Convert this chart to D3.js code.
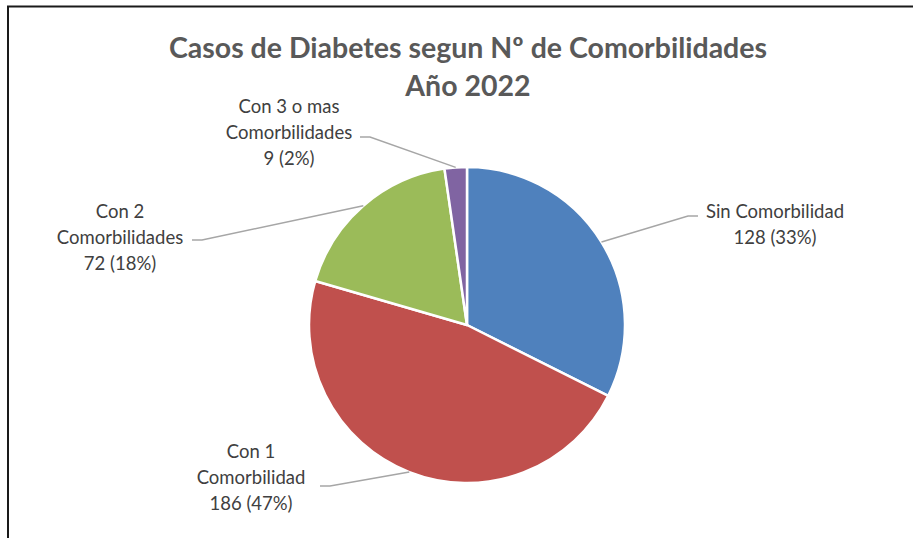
<!DOCTYPE html>
<html>
<head>
<meta charset="utf-8">
<script src="https://cdn.jsdelivr.net/npm/d3@7"></script>
<style>
  body { margin: 0; background: #fff; }
  svg { display: block; font-family: Lato, "Noto Sans", sans-serif; }
</style>
</head>
<body>
<svg width="913" height="538"></svg>
<script>
const width = 913;
const height = 538;

// data
const categories = ["Sin Comorbilidad", "Con 1 Comorbilidad", "Con 2 Comorbilidades", "Con 3 o mas Comorbilidades"];
const values = [128, 186, 72, 9];
const percents = [33, 47, 18, 2];
const labelLines = [
    ["Sin Comorbilidad"],
    ["Con 1", "Comorbilidad"],
    ["Con 2", "Comorbilidades"],
    ["Con 3 o mas", "Comorbilidades"]
];
const colors = ["#4F81BD", "#C0504D", "#9BBB59", "#8064A2"];
const titleLines = ["Casos de Diabetes segun Nº de Comorbilidades", "Año 2022"];

// where each data label sits (text centre x, first baseline y, leader elbow)
const labelLayout = [
    { x: 775, y: 218, ex: 698, ey: 216, side: 1 },
    { x: 251, y: 458, ex: 320, ey: 486, side: -1 },
    { x: 120, y: 218, ex: 192, ey: 240, side: -1 },
    { x: 289, y: 113, ex: 360, ey: 137, side: -1 }
];

const cx = 467, cy = 325, radius = 158;

const svg = d3.select("svg")
    .attr("viewBox", [0, 0, width, height]);

// chart frame
svg.append("rect")
    .attr("x", 8)
    .attr("y", 6.5)
    .attr("width", width + 10)
    .attr("height", height + 10)
    .attr("fill", "none")
    .attr("stroke", "#1a1a1a")
    .attr("stroke-width", 2);

// title
svg.append("text")
    .attr("text-anchor", "middle")
    .attr("fill", "#595959")
    .attr("font-weight", "bold")
    .attr("font-size", 28.5)
    .selectAll("tspan")
    .data(titleLines)
    .join("tspan")
    .attr("x", 468)
    .attr("y", (d, i) => 58 + i * 38)
    .text(d => d);

const data = categories.map((c, i) => ({ name: c, value: values[i], pct: percents[i], lines: labelLines[i], i: i }));

const pie = d3.pie()
    .value(d => d.value)
    .sort(null);

const arc = d3.arc()
    .innerRadius(0)
    .outerRadius(radius);

const arcs = pie(data);

const g = svg.append("g")
    .attr("transform", `translate(${cx},${cy})`);

g.selectAll("path")
    .data(arcs)
    .join("path")
    .attr("d", arc)
    .attr("fill", d => colors[d.data.i])
    .attr("stroke", "#fff")
    .attr("stroke-width", 2.5)
    .attr("stroke-linejoin", "round");

// leader lines: from the arc edge at mid angle to an elbow, then a short horizontal
svg.append("g")
    .attr("fill", "none")
    .attr("stroke", "#a6a6a6")
    .attr("stroke-width", 1.5)
    .selectAll("polyline")
    .data(arcs)
    .join("polyline")
    .attr("points", d => {
        const a = (d.startAngle + d.endAngle) / 2;
        const px = cx + radius * Math.sin(a);
        const py = cy - radius * Math.cos(a);
        const L = labelLayout[d.data.i];
        const kx = L.ex - L.side * 10;
        return [[px, py], [kx, L.ey], [L.ex, L.ey]].map(p => p.join(",")).join(" ");
    });

// data labels
const fmt = d => `${d.value} (${d.pct}%)`;

const labels = svg.append("g")
    .attr("fill", "#404040")
    .attr("font-size", 18.5)
    .attr("text-anchor", "middle")
    .selectAll("text")
    .data(data)
    .join("text");

labels.selectAll("tspan")
    .data(d => d.lines.concat([fmt(d)]).map(t => ({ t: t, L: labelLayout[d.i] })))
    .join("tspan")
    .attr("x", d => d.L.x)
    .attr("y", (d, i) => d.L.y + i * 26)
    .text(d => d.t);
</script>
</body>
</html>
